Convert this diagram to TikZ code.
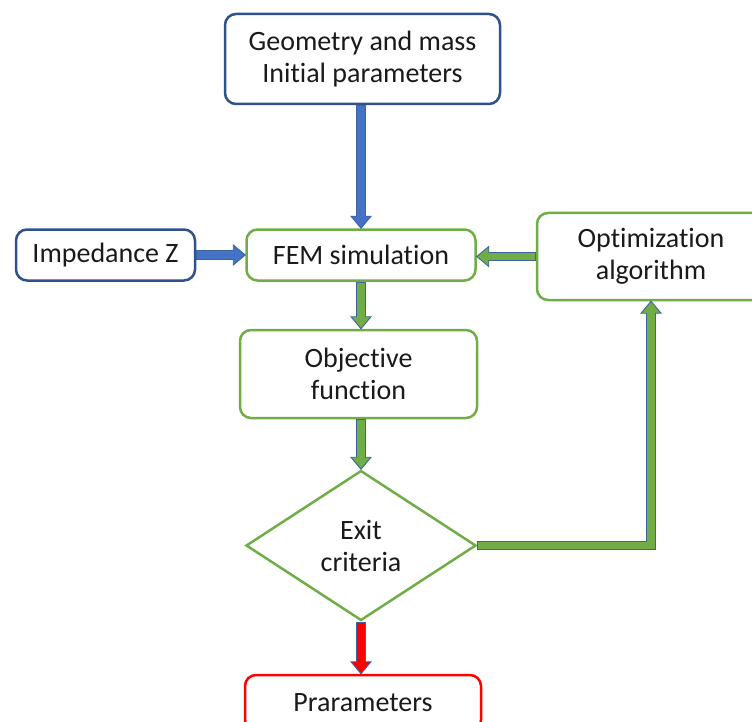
\documentclass[tikz,border=0pt]{standalone}
\usepackage{fontspec}
\setmainfont{Carlito}[Ligatures=NoCommon]
\usetikzlibrary{shapes.geometric,calc}
\definecolor{bblue}{HTML}{2F528F}
\definecolor{afill}{HTML}{4472C4}
\definecolor{gfill}{HTML}{70AD47}
\definecolor{aout}{HTML}{3C64A0}
\definecolor{rred}{HTML}{FF0000}
\definecolor{txt}{HTML}{1A1A1A}
\tikzset{
  box/.style={rectangle, rounded corners=11pt, line width=2.5pt, fill=white,
    align=center, inner sep=0pt, text=txt, font=\fontsize{28}{32}\selectfont},
  bluebox/.style={box, draw=bblue},
  greenbox/.style={box, draw=gfill},
  redbox/.style={box, draw=rred},
  decision/.style={diamond, line width=2.5pt, draw=gfill, fill=white, align=center,
    inner sep=0pt, text=txt, font=\fontsize{28}{32}\selectfont},
}
\newcommand\blockarrow[4]{%
  \draw[aout, line width=9.5pt, shorten >=10pt, line join=miter] #2;
  \begin{scope}[shift={#3}, rotate=#4]
    \filldraw[draw=aout, fill=#1, line width=0.9pt, line join=miter]
      (0,0) -- (-12,10) -- (-12,-10) -- cycle;
  \end{scope}
  \draw[#1, line width=7.7pt, shorten >=11pt, shorten <=0.9pt, line join=miter] #2;
}
\begin{document}
\begin{tikzpicture}[x=1pt, y=-1pt]
\useasboundingbox (0,0) rectangle (752,722);
\node[bluebox, minimum width=275pt, minimum height=90pt] (top) at (362.5,59) {Geometry and mass\\Initial parameters};
\node[bluebox, minimum width=179pt, minimum height=51pt] (imp) at (105.5,255) {Impedance Z};
\node[greenbox, minimum width=229pt, minimum height=51pt] (fem) at (361,255) {FEM simulation};
\node[greenbox, minimum width=228pt, minimum height=87pt] (opt) at (651,256.5) {Optimization\\algorithm};
\node[greenbox, minimum width=237pt, minimum height=88pt] (obj) at (358.5,374) {Objective\\function};
\node[decision, minimum width=230pt, minimum height=150pt] (exit) at (361,545.5) {Exit\\criteria};
\node[redbox, minimum width=236pt, minimum height=56pt] (par) at (363,703) {Prarameters};

\blockarrow{afill}{(fem.north |- top.south) -- (fem.north)}{(fem.north)}{-90}
\blockarrow{afill}{(imp.east) -- (fem.west)}{(fem.west)}{0}
\coordinate (femE) at (opt.west -| fem.east);
\blockarrow{gfill}{(opt.west) -- (femE)}{(femE)}{180}
\coordinate (objN) at (fem.south |- obj.north);
\blockarrow{gfill}{(fem.south) -- (objN)}{(objN)}{-90}
\coordinate (objS) at (exit.north |- obj.south);
\blockarrow{gfill}{(objS) -- (exit.north)}{(exit.north)}{-90}
\coordinate (optS) at (opt.south);
\blockarrow{gfill}{(exit.east) -| (optS)}{(optS)}{90}
\coordinate (parN) at (exit.south |- par.north);
\blockarrow{rred}{(exit.south) -- (parN)}{(parN)}{-90}
\end{tikzpicture}
\end{document}
